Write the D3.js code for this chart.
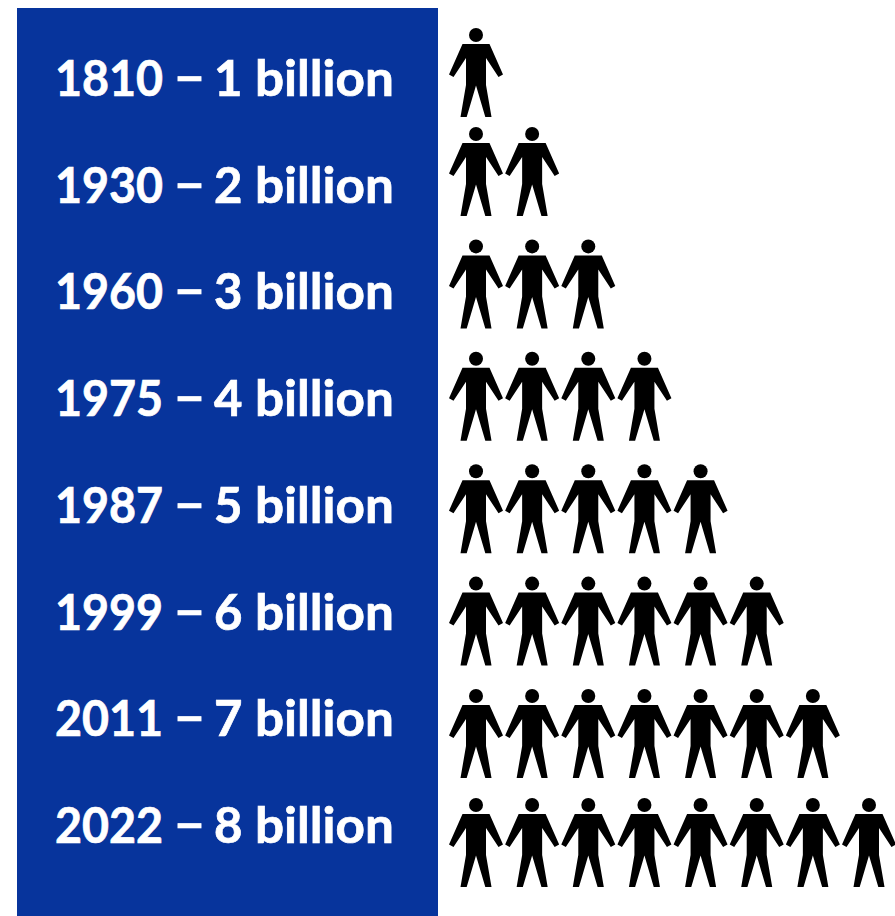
<!DOCTYPE html>
<html>
<head>
<meta charset="utf-8">
<script src="https://cdnjs.cloudflare.com/ajax/libs/d3/7.8.5/d3.min.js"></script>
<style>
  html, body { margin: 0; padding: 0; background: #fff; }
  svg { display: block; }
  text { font-family: Lato, "Open Sans", sans-serif; font-weight: 700; }
</style>
</head>
<body>
<svg id="chart" width="895" height="916"></svg>
<script>
// World population milestones
const years = [1810, 1930, 1960, 1975, 1987, 1999, 2011, 2022];
const billions = [1, 2, 3, 4, 5, 6, 7, 8];

const width = 895, height = 916;
const svg = d3.select("#chart");

svg.append("rect").attr("width", width).attr("height", height).attr("fill", "#fff");

// Blue label panel
svg.append("rect")
  .attr("x", 17).attr("y", 8)
  .attr("width", 421).attr("height", height - 8)
  .attr("fill", "#07349c");

// Baseline of each label row
const yLabel = d3.scaleLinear().domain([0, 7]).range([96, 843]);
// Vertical position of each row of figures (head centres); the rows are not evenly packed
const yFigure = d3.scaleLinear().domain([0, 1, 6, 7]).range([35, 134, 696, 805]);
// One figure stands for one billion people
const x = d3.scaleLinear().domain([0, 7]).range([476, 869]);

// Person pictogram, origin at the centre of the head
const body = d3.line()([
  [-13.5, 9], [13.5, 9], [27, 39.5], [22.5, 42], [10, 23], [10, 50], [15.5, 82], [9.3, 82],
  [0, 50.5],
  [-9.3, 82], [-15.5, 82], [-10, 50], [-10, 23], [-22.5, 42], [-27, 39.5]
]) + "Z";

const rows = svg.selectAll("g.row")
  .data(years.map((year, i) => ({ year, count: billions[i], i })))
  .join("g")
  .attr("class", "row");

const labels = rows.append("text")
  .attr("y", d => yLabel(d.i))
  .attr("font-size", 49)
  .attr("fill", "#fff")
  .attr("stroke", "#fff")
  .attr("stroke-width", 0.7);

// The label parts are set individually to keep the tight spacing around the dash
labels.append("tspan")
  .attr("x", 55)
  .attr("textLength", 108)
  .attr("lengthAdjust", "spacingAndGlyphs")
  .text(d => d.year);
labels.append("tspan")
  .attr("x", 173)
  .attr("dy", -2)
  .attr("textLength", 33)
  .attr("lengthAdjust", "spacingAndGlyphs")
  .text("–");
labels.append("tspan")
  .attr("x", 214)
  .attr("dy", 2)
  .text(d => `${d.count} `);
labels.append("tspan")
  .attr("x", 255)
  .attr("textLength", 139)
  .attr("lengthAdjust", "spacingAndGlyphs")
  .text("billion");

const people = rows.selectAll("g.person")
  .data(d => d3.range(d.count).map(n => ({ n, row: d.i })))
  .join("g")
  .attr("class", "person")
  .attr("transform", d => `translate(${x(d.n)},${yFigure(d.row)})`);

people.append("circle").attr("r", 7).attr("fill", "#000");
people.append("path").attr("d", body).attr("fill", "#000");
</script>
</body>
</html>
